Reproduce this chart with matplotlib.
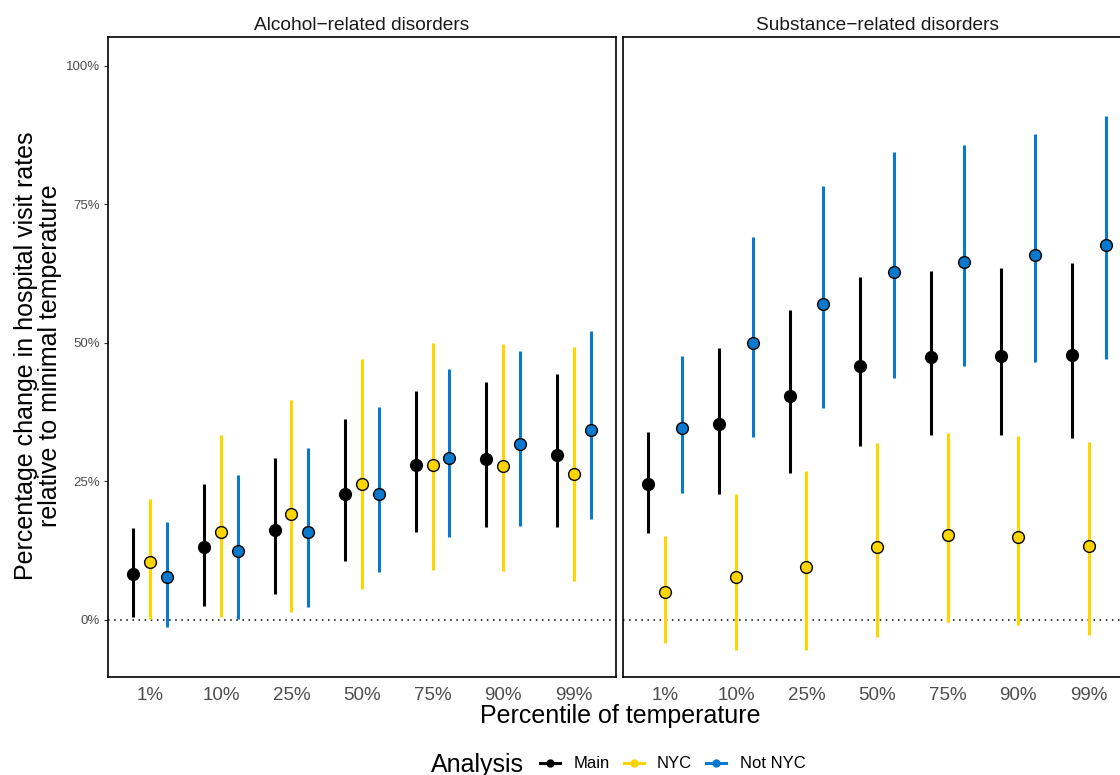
import matplotlib
matplotlib.use("Agg")
import matplotlib.pyplot as plt
from matplotlib.lines import Line2D
import numpy as np

plt.rcParams['font.family'] = ['Liberation Sans', 'DejaVu Sans']

categories = ["1%", "10%", "25%", "50%", "75%", "90%", "99%"]
panels = ["Alcohol\u2212related disorders", "Substance\u2212related disorders"]
groups = ["Main", "NYC", "Not NYC"]

# Alcohol-related disorders (percent)
alc_main_est = [8.2, 13.1, 16.3, 22.7, 27.9, 29.1, 29.8]
alc_main_lo = [0.6, 2.5, 4.7, 10.6, 15.8, 16.7, 16.7]
alc_main_hi = [16.5, 24.5, 29.2, 36.2, 41.3, 42.9, 44.3]
alc_nyc_est = [10.4, 15.8, 19.1, 24.5, 27.9, 27.7, 26.4]
alc_nyc_lo = [0.1, 0.5, 1.5, 5.5, 9.1, 8.8, 7.0]
alc_nyc_hi = [21.8, 33.3, 39.6, 47.1, 49.9, 49.8, 49.2]
alc_notnyc_est = [7.8, 12.5, 15.8, 22.7, 29.3, 31.8, 34.2]
alc_notnyc_lo = [-1.3, 0.2, 2.4, 8.7, 15.0, 16.9, 18.2]
alc_notnyc_hi = [17.7, 26.2, 31.0, 38.5, 45.3, 48.6, 52.2]

# Substance-related disorders (percent)
sub_main_est = [24.5, 35.3, 40.5, 45.8, 47.4, 47.7, 47.8]
sub_main_lo = [15.7, 22.7, 26.5, 31.3, 33.3, 33.3, 32.9]
sub_main_hi = [34.0, 49.1, 56.0, 61.8, 62.9, 63.5, 64.5]
sub_nyc_est = [5.0, 7.7, 9.5, 13.1, 15.4, 15.0, 13.4]
sub_nyc_lo = [-4.1, -5.5, -5.5, -3.0, -0.3, -1.0, -2.8]
sub_nyc_hi = [15.1, 22.7, 26.8, 31.9, 33.7, 33.2, 32.2]
sub_notnyc_est = [34.7, 50.0, 57.0, 62.7, 64.6, 65.9, 67.6]
sub_notnyc_lo = [22.9, 33.1, 38.2, 43.6, 45.9, 46.6, 47.0]
sub_notnyc_hi = [47.7, 69.1, 78.4, 84.5, 85.7, 87.7, 91.0]

colors = {"Main": "#000000", "NYC": "#FFD500", "Not NYC": "#0A78CC"}

data = {
    panels[0]: {
        "Main": (alc_main_est, alc_main_lo, alc_main_hi),
        "NYC": (alc_nyc_est, alc_nyc_lo, alc_nyc_hi),
        "Not NYC": (alc_notnyc_est, alc_notnyc_lo, alc_notnyc_hi),
    },
    panels[1]: {
        "Main": (sub_main_est, sub_main_lo, sub_main_hi),
        "NYC": (sub_nyc_est, sub_nyc_lo, sub_nyc_hi),
        "Not NYC": (sub_notnyc_est, sub_notnyc_lo, sub_notnyc_hi),
    },
}

W, H = 1120, 775
fig = plt.figure(figsize=(W / 100, H / 100), dpi=100)

def px_axes(x0, y0, x1, y1):
    return fig.add_axes([x0 / W, 1 - y1 / H, (x1 - x0) / W, (y1 - y0) / H])

axL = px_axes(108, 37, 616, 677)
axR = px_axes(623, 37, 1131, 677)

offsets = {"Main": -0.24, "NYC": 0.0, "Not NYC": 0.24}
xs = np.arange(1, len(categories) + 1)

for ax, panel in zip([axL, axR], panels):
    ax.axhline(0, color="black", linestyle=(0, (1, 3)), linewidth=1.1, zorder=1)
    for g in groups:
        est, lo, hi = data[panel][g]
        x = xs + offsets[g]
        ax.vlines(x, lo, hi, color=colors[g], linewidth=2.2, zorder=2)
        ax.scatter(x, est, s=72, facecolor=colors[g], edgecolor="black",
                   linewidth=1.0, zorder=3)
    ax.set_xlim(0.4, 7.6)
    ax.set_ylim(-10.3, 105.2)
    ax.set_xticks(xs)
    ax.set_xticklabels(categories, fontsize=13.5, color="#4d4d4d")
    ax.tick_params(axis="x", length=0, pad=7)
    for s in ax.spines.values():
        s.set_linewidth(1.2)
        s.set_color("black")
    ax.set_title(panel, fontsize=13.8, color="#1a1a1a", pad=5)

axL.set_yticks([0, 25, 50, 75, 100])
axL.set_yticklabels(["0%", "25%", "50%", "75%", "100%"], fontsize=9.5, color="#4d4d4d")
axL.tick_params(axis="y", length=3, width=0.8, color="#333333", pad=3)
axR.set_yticks([])

fig.text(38 / W, 1 - 356 / H,
         "Percentage change in hospital visit rates\nrelative to minimal temperature",
         rotation=90, ha="center", va="center", fontsize=18, linespacing=1.05,
         color="black")
fig.text(620 / W, 1 - 716 / H, "Percentile of temperature", ha="center",
         va="center", fontsize=18, color="black")

fig.text(431 / W, 1 - 765 / H, "Analysis", ha="left", va="center", fontsize=18)
handles = [Line2D([0], [0], color=colors[g], linewidth=2.2, marker="o",
                  markersize=5, markerfacecolor=colors[g], markeredgecolor=colors[g])
           for g in groups]
fig.legend(handles, groups, loc="center left", bbox_to_anchor=(540 / W, 1 - 764 / H),
           ncol=3, frameon=False, fontsize=12, handlelength=1.2, handletextpad=0.8,
           columnspacing=0.85, borderaxespad=0, borderpad=0)

fig.savefig("out.png", dpi=100)
